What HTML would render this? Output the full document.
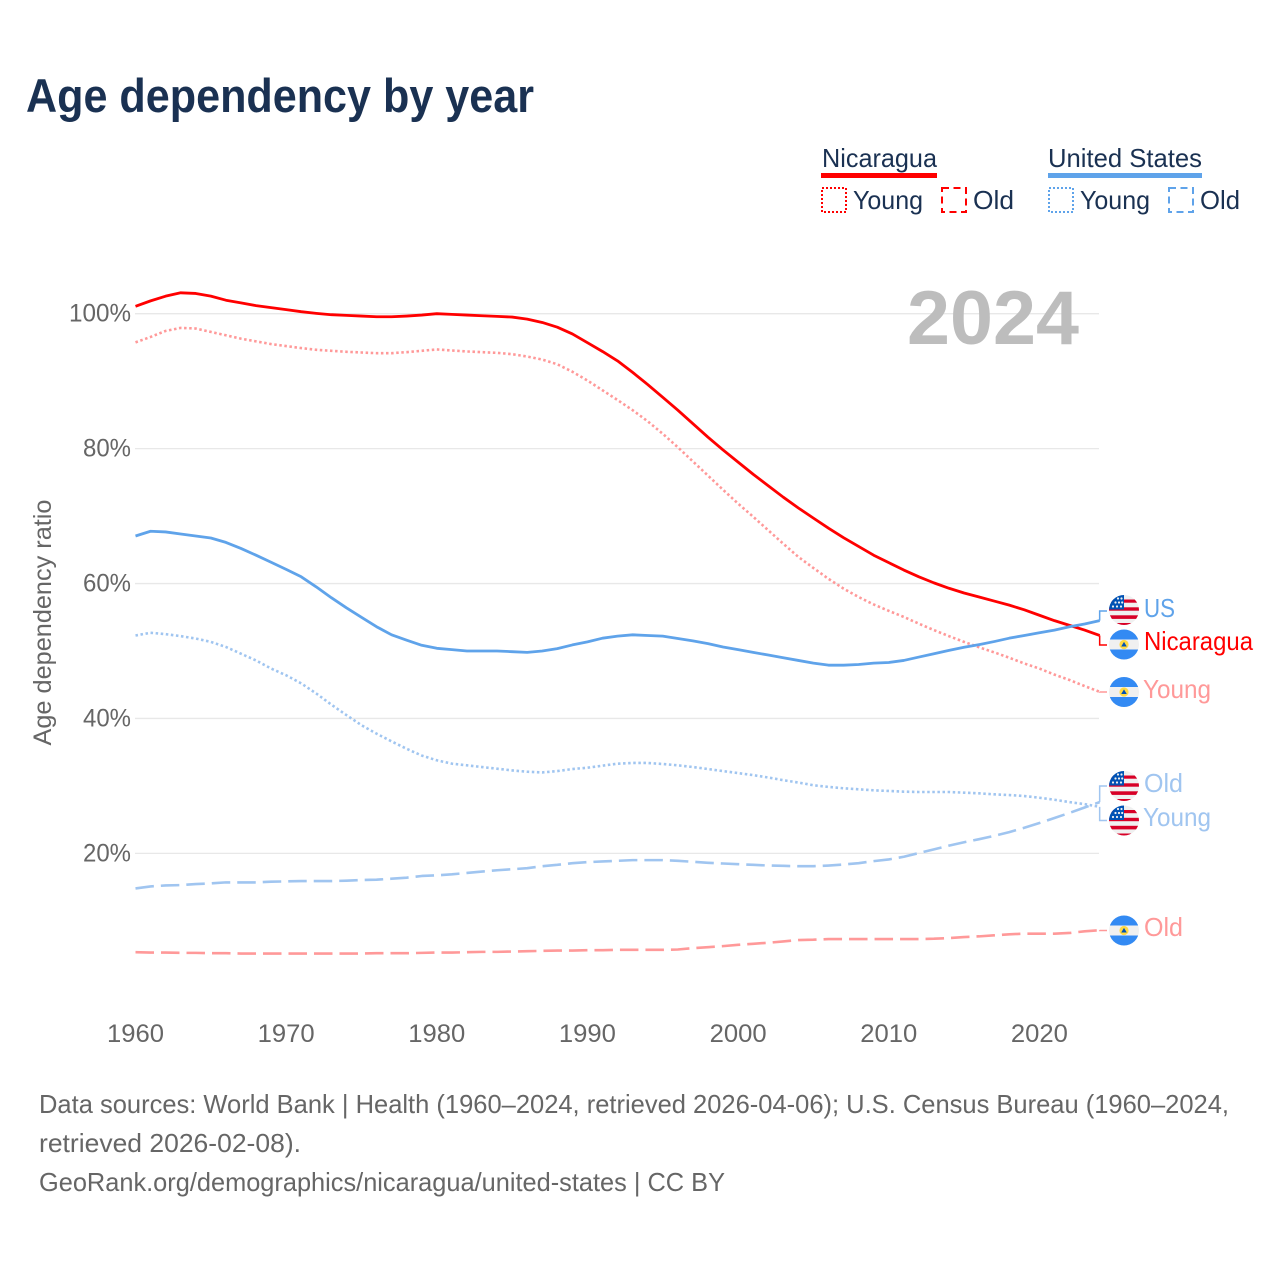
<!DOCTYPE html>
<html lang="en">
<head>
<meta charset="utf-8">
<title>Age dependency by year</title>
<style>
html,body{margin:0;padding:0;background:#fff}
svg{display:block;font-family:"Liberation Sans",sans-serif}
</style>
</head>
<body>
<svg id="chart" xmlns="http://www.w3.org/2000/svg" width="1280" height="1280" viewBox="0 0 1280 1280">
<defs>
<clipPath id="flag-clip"><circle cx="0" cy="0" r="15"/></clipPath>
<g id="us-flag-art" clip-path="url(#flag-clip)">
<rect x="-15" y="-15" width="30" height="30" fill="#f0f0f0"/>
<rect x="-15" y="-10.5" width="30" height="3.2" fill="#d80027"/>
<rect x="-15" y="-2.7" width="30" height="3.4" fill="#d80027"/>
<rect x="-15" y="5.3" width="30" height="3.6" fill="#d80027"/>
<rect x="-15" y="13" width="30" height="2" fill="#d80027"/>
<rect x="-15" y="-15" width="15" height="14.5" fill="#0052b4"/>
<circle cx="-11" cy="-3.5" r="1.1" fill="#f0f0f0"/><circle cx="-7" cy="-3.5" r="1.1" fill="#f0f0f0"/><circle cx="-3" cy="-3.5" r="1.1" fill="#f0f0f0"/>
<circle cx="-8.5" cy="-7.5" r="1.1" fill="#f0f0f0"/><circle cx="-5" cy="-7.5" r="1.1" fill="#f0f0f0"/><circle cx="-1.8" cy="-7.5" r="1.1" fill="#f0f0f0"/>
<circle cx="-6" cy="-11.5" r="1.1" fill="#f0f0f0"/><circle cx="-2.5" cy="-11.5" r="1.1" fill="#f0f0f0"/>
</g>
<g id="nic-flag-art" clip-path="url(#flag-clip)">
<rect x="-15" y="-15" width="30" height="30" fill="#f0f0f0"/>
<rect x="-15" y="-15" width="30" height="10" fill="#338af3"/>
<rect x="-15" y="5" width="30" height="10" fill="#338af3"/>
<circle cx="0" cy="0" r="4.6" fill="#ffda44"/>
<path d="M0,-2.6 L2.8,2 L-2.8,2 Z" fill="#0052b4"/>
</g>
</defs>

<text x="26" y="112" font-size="47" font-weight="700" fill="#1a3152" textLength="508" lengthAdjust="spacingAndGlyphs">Age dependency by year</text>

<g fill="#1a3152" font-size="26">
<text x="822" y="167" textLength="115" lengthAdjust="spacingAndGlyphs">Nicaragua</text>
<rect x="821" y="173" width="116" height="5" fill="#ff0000"/>
<rect x="822" y="188" width="24" height="24" fill="none" stroke="#ff0000" stroke-width="2" stroke-dasharray="2 2"/>
<text x="853" y="209" textLength="70" lengthAdjust="spacingAndGlyphs">Young</text>
<rect x="942" y="188" width="24" height="24" fill="none" stroke="#ff0000" stroke-width="2" stroke-dasharray="7 4.5"/>
<text x="973" y="209" textLength="41" lengthAdjust="spacingAndGlyphs">Old</text>
<text x="1048" y="167" textLength="154" lengthAdjust="spacingAndGlyphs">United States</text>
<rect x="1048" y="173" width="154" height="5" fill="#5fa3ea"/>
<rect x="1049" y="188" width="24" height="24" fill="none" stroke="#5fa3ea" stroke-width="2" stroke-dasharray="2 2"/>
<text x="1080" y="209" textLength="70" lengthAdjust="spacingAndGlyphs">Young</text>
<rect x="1169" y="188" width="24" height="24" fill="none" stroke="#5fa3ea" stroke-width="2" stroke-dasharray="7 4.5"/>
<text x="1200" y="209" textLength="40" lengthAdjust="spacingAndGlyphs">Old</text>
</g>

<text transform="translate(51,622.5) rotate(-90)" text-anchor="middle" font-size="25" fill="#666" textLength="246" lengthAdjust="spacingAndGlyphs">Age dependency ratio</text>

<g id="grid"></g>
<g id="y-ticks"></g>
<g id="x-ticks"></g>

<text x="907" y="344" font-size="76" font-weight="700" fill="#bdbdbd" textLength="172" lengthAdjust="spacingAndGlyphs">2024</text>

<g id="series"></g>

<g font-size="26">
<use href="#us-flag-art" x="1124" y="610"/>
<text x="1144" y="617" fill="#5fa3ea" textLength="31" lengthAdjust="spacingAndGlyphs">US</text>
<use href="#nic-flag-art" x="1124" y="644.5"/>
<text x="1144" y="650" fill="#ff0000" textLength="109" lengthAdjust="spacingAndGlyphs">Nicaragua</text>
<use href="#nic-flag-art" x="1124" y="692"/>
<text x="1143" y="698" fill="#ff9999" textLength="68" lengthAdjust="spacingAndGlyphs">Young</text>
<use href="#us-flag-art" x="1124" y="786"/>
<text x="1144" y="792" fill="#a0c5f0" textLength="39" lengthAdjust="spacingAndGlyphs">Old</text>
<use href="#us-flag-art" x="1124" y="820.5"/>
<text x="1143" y="826" fill="#a0c5f0" textLength="68" lengthAdjust="spacingAndGlyphs">Young</text>
<use href="#nic-flag-art" x="1124" y="930.5"/>
<text x="1144" y="936" fill="#ff9999" textLength="39" lengthAdjust="spacingAndGlyphs">Old</text>
</g>

<g font-size="26" fill="#666">
<text x="39" y="1113" textLength="1190" lengthAdjust="spacingAndGlyphs">Data sources: World Bank | Health (1960–2024, retrieved 2026-04-06); U.S. Census Bureau (1960–2024,</text>
<text x="39" y="1152" textLength="262" lengthAdjust="spacingAndGlyphs">retrieved 2026-02-08).</text>
<text x="39" y="1191" textLength="686" lengthAdjust="spacingAndGlyphs">GeoRank.org/demographics/nicaragua/united-states | CC BY</text>
</g>
</svg>

<script>
const startYear = 1960;
const yTickValues = [100, 80, 60, 40, 20];
const xTickValues = [1960, 1970, 1980, 1990, 2000, 2010, 2020];

const nicaraguaTotal = [101.1,101.9,102.6,103.1,103.0,102.6,102.0,101.6,101.2,100.9,100.6,100.3,100.05,99.85,99.75,99.65,99.55,99.55,99.65,99.8,100.0,99.9,99.8,99.7,99.6,99.5,99.2,98.7,98.0,97.0,95.7,94.4,93.0,91.3,89.5,87.6,85.7,83.7,81.7,79.8,78.0,76.2,74.5,72.8,71.2,69.7,68.2,66.8,65.5,64.2,63.1,62.0,61.0,60.1,59.3,58.6,58.0,57.4,56.8,56.1,55.3,54.5,53.8,53.1,52.3];
const nicaraguaYoung = [95.75,96.55,97.45,97.9,97.8,97.3,96.8,96.3,95.9,95.5,95.2,94.9,94.65,94.5,94.35,94.25,94.15,94.15,94.3,94.5,94.7,94.55,94.4,94.3,94.2,94.0,93.65,93.2,92.5,91.4,90.1,88.65,87.2,85.7,84.05,82.2,80.2,78.1,76.0,73.9,71.85,69.9,67.9,65.9,63.95,62.3,60.7,59.25,58.0,56.9,55.95,55.05,54.05,53.1,52.2,51.35,50.55,49.8,49.0,48.15,47.4,46.5,45.7,44.8,43.95];
const nicaraguaOld = [5.35,5.3,5.3,5.25,5.25,5.2,5.2,5.15,5.15,5.15,5.15,5.15,5.15,5.15,5.15,5.15,5.2,5.2,5.2,5.25,5.3,5.3,5.35,5.4,5.4,5.45,5.5,5.55,5.6,5.6,5.65,5.65,5.7,5.7,5.7,5.7,5.75,5.95,6.1,6.25,6.45,6.6,6.75,6.95,7.15,7.2,7.3,7.3,7.3,7.3,7.3,7.3,7.3,7.35,7.45,7.6,7.7,7.85,8.0,8.1,8.1,8.1,8.2,8.45,8.6];
const usTotal = [67.05,67.75,67.65,67.35,67.05,66.75,66.1,65.2,64.2,63.15,62.1,61.0,59.5,57.9,56.4,55.0,53.6,52.4,51.6,50.85,50.4,50.2,50.0,50.0,50.0,49.9,49.8,50.0,50.35,50.9,51.35,51.9,52.2,52.4,52.3,52.2,51.85,51.5,51.1,50.6,50.2,49.8,49.4,49.0,48.6,48.2,47.9,47.9,48.0,48.2,48.3,48.6,49.1,49.6,50.1,50.55,50.95,51.4,51.9,52.3,52.7,53.1,53.6,54.0,54.5];
const usYoung = [52.3,52.7,52.5,52.2,51.85,51.35,50.6,49.6,48.6,47.4,46.4,45.2,43.7,42.05,40.5,39.0,37.75,36.6,35.5,34.5,33.8,33.3,33.05,32.8,32.55,32.3,32.1,32.0,32.2,32.5,32.7,33.0,33.3,33.4,33.4,33.25,33.05,32.8,32.5,32.2,31.9,31.6,31.25,30.85,30.5,30.1,29.85,29.65,29.5,29.35,29.25,29.15,29.1,29.1,29.1,29.0,28.9,28.75,28.65,28.5,28.25,27.95,27.6,27.3,26.9];
const usOld = [14.8,15.1,15.25,15.3,15.45,15.55,15.7,15.7,15.7,15.8,15.85,15.9,15.9,15.9,15.95,16.05,16.1,16.25,16.4,16.65,16.75,16.9,17.1,17.3,17.5,17.65,17.8,18.1,18.3,18.55,18.7,18.8,18.9,19.0,19.0,19.0,18.9,18.75,18.6,18.5,18.4,18.3,18.2,18.15,18.1,18.1,18.2,18.35,18.55,18.85,19.1,19.5,20.05,20.6,21.15,21.65,22.1,22.6,23.15,23.8,24.5,25.25,26.0,26.8,27.6];

const SVG_NS = 'http://www.w3.org/2000/svg';
const xScale = function (year) { return 135.5 + (year - 1960) * 15.065; };
const yScale = function (pct) { return 988.3 - pct * 6.746; };

const gridGroup = document.getElementById('grid');
const yTickGroup = document.getElementById('y-ticks');
const xTickGroup = document.getElementById('x-ticks');
const seriesGroup = document.getElementById('series');

yTickValues.forEach(function (v) {
  const line = document.createElementNS(SVG_NS, 'line');
  
  
  line.setAttribute('x1', 135);
  line.setAttribute('x2', 1099);
  line.setAttribute('y1', yScale(v));
  line.setAttribute('y2', yScale(v));
  line.setAttribute('stroke', '#e8e8e8');
  line.setAttribute('stroke-width', '1.3');
  gridGroup.appendChild(line);

  const label = v + '%';
  const t = document.createElementNS(SVG_NS, 'text');
  
  
  t.setAttribute('x', 131);
  t.setAttribute('y', yScale(v) + 8);
  t.setAttribute('text-anchor', 'end');
  t.setAttribute('font-size', '25');
  t.setAttribute('fill', '#666');
  t.setAttribute('textLength', 14 * label.length + 6);
  t.setAttribute('lengthAdjust', 'spacingAndGlyphs');
  t.textContent = label;
  yTickGroup.appendChild(t);
});

xTickValues.forEach(function (v) {
  const t = document.createElementNS(SVG_NS, 'text');
  
  
  t.setAttribute('x', xScale(v));
  t.setAttribute('y', 1042);
  t.setAttribute('text-anchor', 'middle');
  t.setAttribute('font-size', '25');
  t.setAttribute('fill', '#666');
  t.setAttribute('textLength', 57);
  t.setAttribute('lengthAdjust', 'spacingAndGlyphs');
  t.textContent = String(v);
  xTickGroup.appendChild(t);
});

function drawSeries(name, values, color, width, dash, labelY) {
  let d = '';
  values.forEach(function (v, i) {
    d += (i ? 'L' : 'M') + xScale(startYear + i).toFixed(2) + ',' + yScale(v).toFixed(2);
  });
  const path = document.createElementNS(SVG_NS, 'path');
  
  
  path.setAttribute('d', d);
  path.setAttribute('fill', 'none');
  path.setAttribute('stroke', color);
  path.setAttribute('stroke-width', width);
  path.setAttribute('stroke-linejoin', 'round');
  if (dash) path.setAttribute('stroke-dasharray', dash);
  seriesGroup.appendChild(path);

  const ex = xScale(startYear + values.length - 1);
  const ey = yScale(values[values.length - 1]);
  const conn = document.createElementNS(SVG_NS, 'path');
  
  
  conn.setAttribute('d', 'M' + ex + ',' + ey + 'L' + ex + ',' + labelY + 'L1107,' + labelY);
  conn.setAttribute('fill', 'none');
  conn.setAttribute('stroke', color);
  conn.setAttribute('stroke-width', '1.5');
  seriesGroup.appendChild(conn);
}

drawSeries('line-nicaragua-old', nicaraguaOld, '#ff9999', 2.6, '18.5 7', 930.5);
drawSeries('line-us-old', usOld, '#a0c5f0', 2.6, '18.5 7', 786);
drawSeries('line-us-young', usYoung, '#a0c5f0', 2.6, '2.5 2.6', 820.5);
drawSeries('line-nicaragua-young', nicaraguaYoung, '#ff9999', 2.6, '2.5 2.6', 692);
drawSeries('line-nicaragua-total', nicaraguaTotal, '#ff0000', 2.8, '', 645);
drawSeries('line-us-total', usTotal, '#5fa3ea', 2.8, '', 611);
</script>
</body>
</html>
